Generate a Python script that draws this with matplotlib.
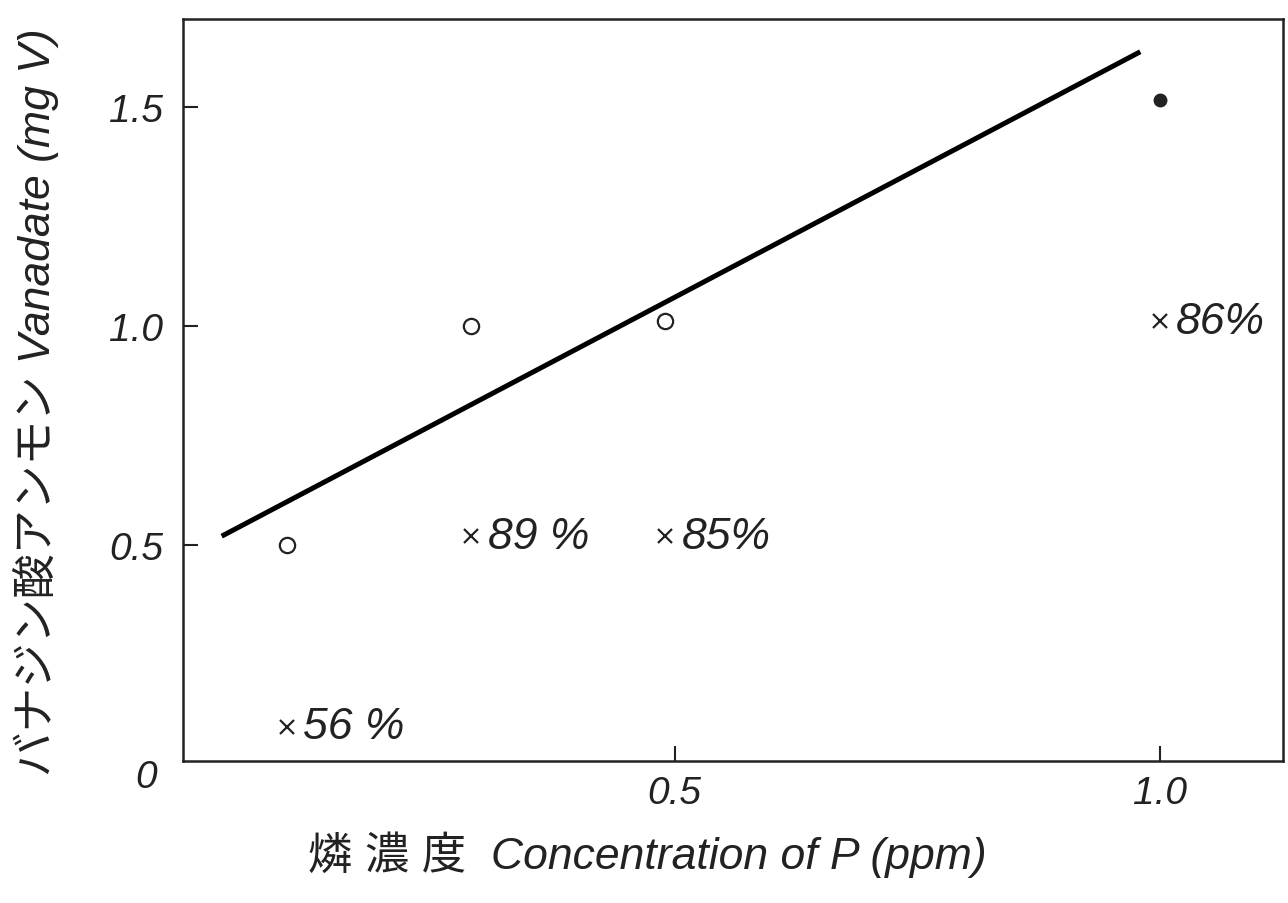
import numpy as np
import matplotlib
matplotlib.use('Agg')
import matplotlib.pyplot as plt

# measured values (ppm P vs mg V)
circle_x = [0.10, 0.29, 0.49]
circle_y = [0.50, 1.00, 1.01]
filled_x = [1.00]
filled_y = [1.515]
cross_x = [0.10, 0.29, 0.49, 1.00]
cross_y = [0.085, 0.52, 0.52, 1.01]
cross_labels = ['56 %', '89 %', '85%', '86%']
fit_x = [0.033, 0.98]
fit_y = [0.52, 1.625]

plt.rcParams['font.family'] = ['Liberation Sans', 'Noto Sans CJK JP', 'DejaVu Sans']
ink = '#222222'

fig = plt.figure(figsize=(12.88, 9.04), dpi=100)
ax = fig.add_axes([0.142, 0.157, 0.854, 0.821])

ax.plot(fit_x, fit_y, color='black', lw=3.6, solid_capstyle='butt')
ax.plot(circle_x, circle_y, 'o', ms=11, mfc='white', mec=ink, mew=1.6, ls='none')
ax.plot(filled_x, filled_y, 'o', ms=9, color=ink, ls='none')
ax.plot(cross_x, cross_y, 'x', ms=10, color=ink, mew=1.6, ls='none')
for x, y, t in zip(cross_x, cross_y, cross_labels):
    ax.annotate(t, (x, y), xytext=(12, 0), textcoords='offset points',
                ha='left', va='center', fontsize=32, style='italic', color=ink)

ax.set_xlim(-0.007, 1.127)
ax.set_ylim(0.007, 1.70)
ax.set_xticks([0.5, 1.0])
ax.set_xticklabels(['0.5', '1.0'])
ax.set_yticks([0.5, 1.0, 1.5])
ax.set_yticklabels(['0.5', '1.0', '1.5'])
ax.tick_params(direction='in', length=11, width=1.5, color=ink, labelcolor=ink,
               labelsize=28)
ax.tick_params(axis='x', pad=10)
ax.tick_params(axis='y', pad=14)
for lab in ax.get_xticklabels() + ax.get_yticklabels():
    lab.set_style('italic')
for s in ax.spines.values():
    s.set_linewidth(1.8)
    s.set_color(ink)

ax.text(-0.045, -0.03, '0', transform=ax.transData, ha='center', va='center',
        fontsize=28, style='italic', color=ink)

fig.text(0.503, 0.055, '燐 濃 度  Concentration of P (ppm)', fontsize=32, color=ink,
         ha='center', va='center', style='italic')
fig.text(0.028, 0.555, 'バナジン酸アンモン Vanadate (mg V)', rotation=90,
         ha='center', va='center', fontsize=32, color=ink, style='italic')

fig.savefig('out.png', dpi=100)
